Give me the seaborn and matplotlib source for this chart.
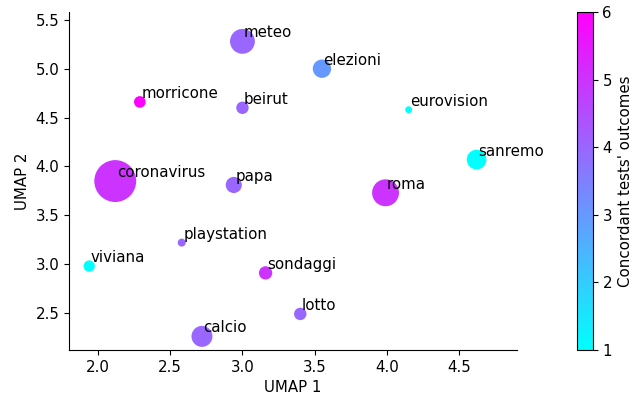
import matplotlib.pyplot as plt
import matplotlib as mpl
import pandas as pd
import numpy as np
import seaborn as sns

sns.set_style("ticks", {"text.color": "black", "axes.labelcolor": "black",
                        "xtick.color": "black", "ytick.color": "black",
                        "axes.edgecolor": "black"})
plt.rcParams["font.size"] = 10.8
plt.rcParams["xtick.labelsize"] = 10.8
plt.rcParams["ytick.labelsize"] = 10.8
plt.rcParams["axes.labelsize"] = 10.8

# words in the umap projection
words = ["meteo", "elezioni", "morricone", "beirut", "eurovision", "sanremo",
         "coronavirus", "papa", "roma", "playstation", "viviana", "sondaggi",
         "lotto", "calcio"]
umap1 = [3.00, 3.55, 2.29, 3.00, 4.15, 4.62, 2.12, 2.94, 3.99, 2.58, 1.94, 3.16, 3.40, 2.72]
umap2 = [5.28, 5.00, 4.66, 4.60, 4.58, 4.07, 3.85, 3.81, 3.73, 3.22, 2.98, 2.91, 2.49, 2.26]
outcomes = [4, 3, 6, 4, 1, 1, 5, 4, 5, 4, 1, 5, 4, 4]
frequency = [320, 175, 70, 80, 25, 200, 910, 135, 375, 33, 66, 92, 80, 228]

df = pd.DataFrame({"word": words, "UMAP 1": umap1, "UMAP 2": umap2,
                   "outcomes": outcomes, "freq": frequency})

fig = plt.figure(figsize=(6.36, 4.01), dpi=100)
ax = fig.add_axes([0.1085, 0.127, 0.7045, 0.843])
cax = fig.add_axes([0.907, 0.127, 0.025, 0.843])

sns.scatterplot(data=df, x="UMAP 1", y="UMAP 2", hue="outcomes", size="freq",
                palette="cool", hue_norm=(1, 6), sizes=(min(frequency), max(frequency)),
                linewidth=0, legend=False, ax=ax)

for i, row in df.iterrows():
    ax.text(row["UMAP 1"] + 0.01, row["UMAP 2"] + 0.04, row["word"], fontsize=10.8)

ax.set_xlim(1.8, 4.9)
ax.set_ylim(2.12, 5.58)
ax.set_xticks([2.0, 2.5, 3.0, 3.5, 4.0, 4.5])
ax.set_yticks([2.5, 3.0, 3.5, 4.0, 4.5, 5.0, 5.5])
sns.despine(ax=ax)

sm = mpl.cm.ScalarMappable(cmap="cool", norm=mpl.colors.Normalize(1, 6))
cb = fig.colorbar(sm, cax=cax)
cb.set_label("Concordant tests' outcomes")

fig.savefig("out.png", dpi=100)
